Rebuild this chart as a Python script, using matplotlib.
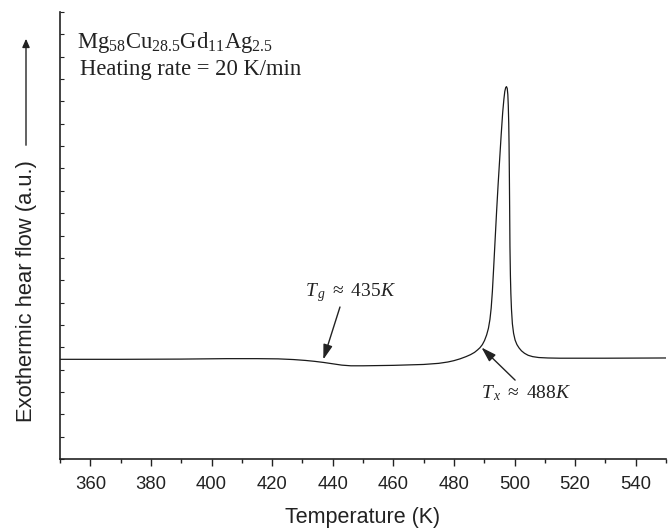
import matplotlib
matplotlib.use("Agg")
import matplotlib.pyplot as plt
import numpy as np

plt.rcParams['mathtext.fontset'] = 'custom'
plt.rcParams['mathtext.rm'] = 'Liberation Serif'
plt.rcParams['mathtext.it'] = 'Liberation Serif:italic'

# DSC curve (temperature K, heat flow a.u.)
temperature = [350, 370, 390, 405, 415, 422, 427, 431, 434, 437, 440, 443, 446, 450,
               460, 470, 475, 478, 480, 482, 484, 485.5, 486.8, 487.8, 488.6, 489.4,
               490.1, 490.8, 491.4, 491.9, 492.3, 492.7, 493.1, 493.6, 494.1, 494.6,
               495.1, 495.6, 496.1, 496.5, 496.8, 497.1, 497.35, 497.6, 497.8, 497.95,
               498.1, 498.2, 498.3, 498.4, 498.5, 498.65, 498.8, 499.0, 499.3, 499.7,
               500.2, 500.8, 501.5, 502.3, 503.3, 504.5, 506, 508, 511, 515, 530, 550]
heat_flow = [4.46, 4.46, 4.47, 4.49, 4.49, 4.48, 4.45, 4.41, 4.37, 4.32, 4.26, 4.20, 4.17, 4.17,
             4.19, 4.23, 4.28, 4.34, 4.40, 4.48, 4.58, 4.67, 4.77, 4.88, 4.98, 5.12,
             5.30, 5.55, 5.85, 6.25, 6.75, 7.50, 8.50, 9.80, 11.10, 12.30,
             13.40, 14.50, 15.50, 16.10, 16.45, 16.62, 16.66, 16.58, 16.30, 15.80,
             15.00, 14.10, 12.80, 11.20, 9.50, 8.20, 7.40, 6.70, 6.05, 5.62,
             5.32, 5.12, 4.97, 4.84, 4.73, 4.64, 4.58, 4.54, 4.52, 4.51, 4.51, 4.52]

x_major = [360, 380, 400, 420, 440, 460, 480, 500, 520, 540]
x_minor = [350, 370, 390, 410, 430, 450, 470, 490, 510, 530, 550]
y_ticks = list(range(0, 21))

W, H = 672, 529
fig = plt.figure(figsize=(W / 100, H / 100), dpi=100)
ax = fig.add_axes([60 / W, 1 - 459 / H, 606 / W, 447 / H])

ax.plot(temperature, heat_flow, color='#1a1a1a', lw=0.9, solid_joinstyle='round')
ax.set_xlim(350, 550)
ax.set_ylim(0, 20)

for s in ['top', 'right']:
    ax.spines[s].set_visible(False)
for s in ['left', 'bottom']:
    ax.spines[s].set_linewidth(1.2)
    ax.spines[s].set_color('#222222')

ax.set_xticks(x_major)
ax.set_xticks(x_minor, minor=True)
ax.set_xticklabels([str(v) for v in x_major], fontname='Liberation Sans', fontsize=13.3, color='#222222')
ax.tick_params(axis='x', which='major', direction='out', length=5, width=1, color='#222222', pad=7)
ax.tick_params(axis='x', which='minor', direction='out', length=3, width=1, color='#222222')
ax.set_yticks(y_ticks)
ax.set_yticklabels([])
ax.tick_params(axis='y', which='major', direction='in', length=3, width=0.8, color='#222222')

ax.set_xlabel('Temperature (K)', fontname='Liberation Sans', fontsize=15.5, color='#222222', labelpad=10)

# y label and arrow
fig.text(27 / W, 1 - 291 / H, 'Exothermic hear flow (a.u.)', rotation=90,
         ha='center', va='center', fontname='Liberation Sans', fontsize=15.8, color='#222222')
fig.patches.append(matplotlib.patches.FancyArrowPatch(
    (26 / W, 1 - 148 / H), (26 / W, 1 - 36 / H), transform=fig.transFigure,
    arrowstyle='-|>,head_length=5,head_width=2.2', lw=1.0, color='#222222', mutation_scale=1))

ax.text(0.028, 0.920, r'Mg$_{58}$Cu$_{28.5}$Gd$_{11}$Ag$_{2.5}$', transform=ax.transAxes,
        fontname='Liberation Serif', fontsize=16.3, va='baseline', ha='left', color='#222222')
ax.text(0.033, 0.859, 'Heating rate = 20 K/min', transform=ax.transAxes,
        fontname='Liberation Serif', fontsize=16.3, va='baseline', ha='left', color='#222222')

arrowprops = dict(arrowstyle='-|>,head_length=0.9,head_width=0.28', lw=1.0, color='#222222',
                  shrinkA=0, shrinkB=0)
ax.annotate('', xy=(436.9, 4.45), xytext=(442.4, 6.8), arrowprops=arrowprops)
ax.text(430.8, 7.29, r'$T_{\,g}$ $\approx$ 435$K$', fontname='Liberation Serif', fontsize=14,
        va='baseline', ha='left', color='#222222')
ax.annotate('', xy=(489.1, 4.99), xytext=(500.2, 3.53), arrowprops=arrowprops)
ax.text(489.1, 2.73, r'$T_{\,x}$ $\approx$ 488$K$', fontname='Liberation Serif', fontsize=14,
        va='baseline', ha='left', color='#222222')

fig.savefig('out.png', dpi=100)
